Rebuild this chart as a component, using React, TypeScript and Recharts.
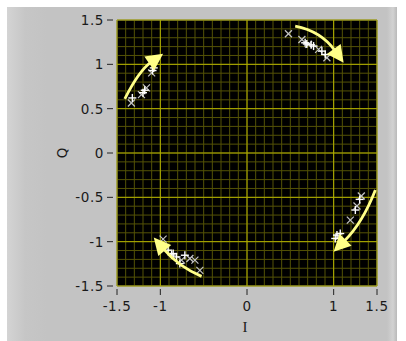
import React from 'react';
import { ScatterChart, Scatter, XAxis, YAxis, CartesianGrid, ReferenceArea, ReferenceLine } from 'recharts';

// axis ticks
const xTicks = [-1.5, -1, 0, 1, 1.5];
const yTicks = [-1.5, -1, -0.5, 0, 0.5, 1, 1.5];

// symbols drawn as gray "x"
const crossPoints = [
  { i: -1.334, q: 0.564 }, { i: -1.218, q: 0.658 }, { i: -1.16, q: 0.734 }, { i: -1.1, q: 0.904 },
  { i: 0.478, q: 1.345 }, { i: 0.633, q: 1.28 }, { i: 0.71, q: 1.225 }, { i: 0.826, q: 1.168 }, { i: 0.922, q: 1.074 },
  { i: 1.319, q: -0.485 }, { i: 1.269, q: -0.598 }, { i: 1.192, q: -0.757 }, { i: 1.057, q: -0.945 },
  { i: -0.968, q: -0.972 }, { i: -0.756, q: -1.209 }, { i: -0.659, q: -1.19 }, { i: -0.601, q: -1.209 }, { i: -0.544, q: -1.323 },
];

// symbols drawn as white "+"
const plusPoints = [
  { i: -1.323, q: 0.621 }, { i: -1.2, q: 0.68 }, { i: -1.18, q: 0.708 }, { i: -1.09, q: 0.93 }, { i: -1.076, q: 0.96 },
  { i: 0.671, q: 1.243 }, { i: 0.69, q: 1.23 }, { i: 0.74, q: 1.22 }, { i: 0.768, q: 1.206 }, { i: 0.864, q: 1.149 }, { i: 0.903, q: 1.111 },
  { i: 1.3, q: -0.523 }, { i: 1.25, q: -0.643 }, { i: 1.076, q: -0.908 }, { i: 1.038, q: -0.926 }, { i: 1.018, q: -0.964 },
  { i: -0.91, q: -1.096 }, { i: -0.87, q: -1.15 }, { i: -0.852, q: -1.134 }, { i: -0.814, q: -1.172 }, { i: -0.775, q: -1.247 }, { i: -0.717, q: -1.153 },
];

// rotation arrows: start, middle, tip
const arrowTopLeft = [{ i: -1.41, q: 0.61 }, { i: -1.218, q: 0.896 }, { i: -0.968, q: 1.119 }];
const arrowTopRight = [{ i: 0.556, q: 1.432 }, { i: 0.845, q: 1.3 }, { i: 1.115, q: 1.017 }];
const arrowBottomRight = [{ i: 1.481, q: -0.417 }, { i: 1.288, q: -0.775 }, { i: 0.999, q: -1.115 }];
const arrowBottomLeft = [{ i: -0.524, q: -1.391 }, { i: -0.794, q: -1.228 }, { i: -1.076, q: -0.953 }];
const arrows = [arrowTopLeft, arrowTopRight, arrowBottomRight, arrowBottomLeft];

// minor grid every 0.1
const minorTicks: number[] = [];
for (let k = -14; k <= 14; k++) minorTicks.push(k / 10);

const FONT = '"DejaVu Sans", sans-serif';
const ARROW = '#ffff88';
const MAJOR = '#b2b000';
const MINOR = '#545206';

const CrossShape = (props: any) => {
  const { cx, cy } = props;
  const s = 3.5;
  return (
    <g stroke="#c4c4c4" strokeWidth={1.2}>
      <line x1={cx - s} y1={cy - s} x2={cx + s} y2={cy + s} />
      <line x1={cx - s} y1={cy + s} x2={cx + s} y2={cy - s} />
    </g>
  );
};

const PlusShape = (props: any) => {
  const { cx, cy } = props;
  const s = 4;
  return (
    <g stroke="#ffffff" strokeWidth={1.4}>
      <line x1={cx - s} y1={cy} x2={cx + s} y2={cy} />
      <line x1={cx} y1={cy - s} x2={cx} y2={cy + s} />
    </g>
  );
};

const ArrowLine = (props: any) => {
  const pts = props.points;
  if (!pts || pts.length < 3) return <g />;
  const [p0, p1, p2] = pts;
  // control point so the quadratic passes through the middle point
  const c = { x: 2 * p1.x - (p0.x + p2.x) / 2, y: 2 * p1.y - (p0.y + p2.y) / 2 };
  let dx = p2.x - c.x;
  let dy = p2.y - c.y;
  const len = Math.sqrt(dx * dx + dy * dy) || 1;
  dx /= len;
  dy /= len;
  const L = 17;
  const W = 8.5;
  const bx = p2.x - dx * L;
  const by = p2.y - dy * L;
  const nx = -dy;
  const ny = dx;
  return (
    <g>
      <path d={`M${p0.x},${p0.y} Q${c.x},${c.y} ${bx + dx * 2},${by + dy * 2}`} fill="none" stroke={ARROW} strokeWidth={2.8} />
      <polygon points={`${p2.x},${p2.y} ${bx + nx * W},${by + ny * W} ${bx - nx * W},${by - ny * W}`} fill={ARROW} />
    </g>
  );
};

const YTick = (props: any) => {
  const { x, y, payload } = props;
  return (
    <g>
      <line x1={x - 10} y1={y} x2={x - 4} y2={y} stroke="#222" strokeWidth={1} />
      <text x={x - 13} y={y} dy="0.36em" textAnchor="end" fontFamily={FONT} fontSize={13.5} letterSpacing={0.6} fill="#1a1a1a">
        {payload.value}
      </text>
    </g>
  );
};

const XTick = (props: any) => {
  const { x, y, payload } = props;
  return (
    <g>
      <line x1={x} y1={y + 3} x2={x} y2={y + 9} stroke="#222" strokeWidth={1} />
      <text x={x} y={y + 20} dy="0.36em" textAnchor="middle" fontFamily={FONT} fontSize={13.5} letterSpacing={0.6} fill="#1a1a1a">
        {payload.value}
      </text>
    </g>
  );
};

const QLabel = (props: any) => {
  const { viewBox } = props;
  const x = viewBox.x + 5;
  const y = viewBox.y + viewBox.height / 2;
  return (
    <text x={x} y={y} transform={`rotate(-90 ${x} ${y})`} textAnchor="middle" dy="0.36em" fontFamily={FONT} fontSize={13.5} fill="#1a1a1a">
      Q
    </text>
  );
};

const ILabel = (props: any) => {
  const { viewBox } = props;
  const x = viewBox.x + viewBox.width / 2 - 2;
  const y = viewBox.y + viewBox.height + 11;
  return (
    <text x={x} y={y} textAnchor="middle" dy="0.36em" fontFamily='"Liberation Serif", serif' fontSize={15} fill="#1a1a1a">
      I
    </text>
  );
};

const App = () => {
  return (
    <div style={{ position: 'absolute', left: 0, top: 0, width: 406, height: 341, background: '#ffffff', overflow: 'hidden' }}>
      <div
        style={{
          position: 'absolute',
          left: 7,
          top: 7,
          width: 390,
          height: 334,
          background: 'linear-gradient(to right, #d4d4d4 0px, #c6c6c6 18px, #c3c3c3 40px, #c3c3c3 380px, #d2d2d2 386px, #b9b9b9 390px)',
        }}
      />
      <div style={{ position: 'absolute', left: 0, top: 0 }}>
        <ScatterChart width={406} height={341} margin={{ top: 20, right: 29, bottom: 25, left: 57 }}>
          <CartesianGrid horizontal={false} vertical={false} fill="#000000" />
          <XAxis
            type="number"
            dataKey="i"
            domain={[-1.5, 1.5]}
            ticks={xTicks}
            allowDataOverflow
            axisLine={false}
            tickLine={false}
            tickSize={0}
            tickMargin={0}
            height={30}
            tick={<XTick />}
            label={<ILabel />}
          />
          <YAxis
            type="number"
            dataKey="q"
            domain={[-1.5, 1.5]}
            ticks={yTicks}
            allowDataOverflow
            axisLine={false}
            tickLine={false}
            tickSize={0}
            tickMargin={0}
            width={60}
            tick={<YTick />}
            label={<QLabel />}
          />
          {minorTicks.map((v) => (
            <ReferenceLine key={`mx${v}`} x={v} stroke={MINOR} strokeWidth={1} />
          ))}
          {minorTicks.map((v) => (
            <ReferenceLine key={`my${v}`} y={v} stroke={MINOR} strokeWidth={1} />
          ))}
          {xTicks.map((v) => (
            <ReferenceLine key={`vx${v}`} x={v} stroke={MAJOR} strokeWidth={1} ifOverflow="visible" />
          ))}
          {yTicks.map((v) => (
            <ReferenceLine key={`hy${v}`} y={v} stroke={MAJOR} strokeWidth={1} ifOverflow="visible" />
          ))}
          <ReferenceArea x1={-1.5} x2={1.5} y1={-1.5} y2={1.5} fill="none" stroke="#6e6e6e" strokeWidth={1} ifOverflow="visible" />
          <Scatter data={crossPoints} shape={<CrossShape />} isAnimationActive={false} />
          <Scatter data={plusPoints} shape={<PlusShape />} isAnimationActive={false} />
          {arrows.map((a, idx) => (
            <Scatter
              key={idx}
              data={a}
              shape={() => <g />}
              line={(p: any) => <ArrowLine {...p} />}
              lineType="joint"
              isAnimationActive={false}
            />
          ))}
        </ScatterChart>
      </div>
    </div>
  );
};

export default App;
